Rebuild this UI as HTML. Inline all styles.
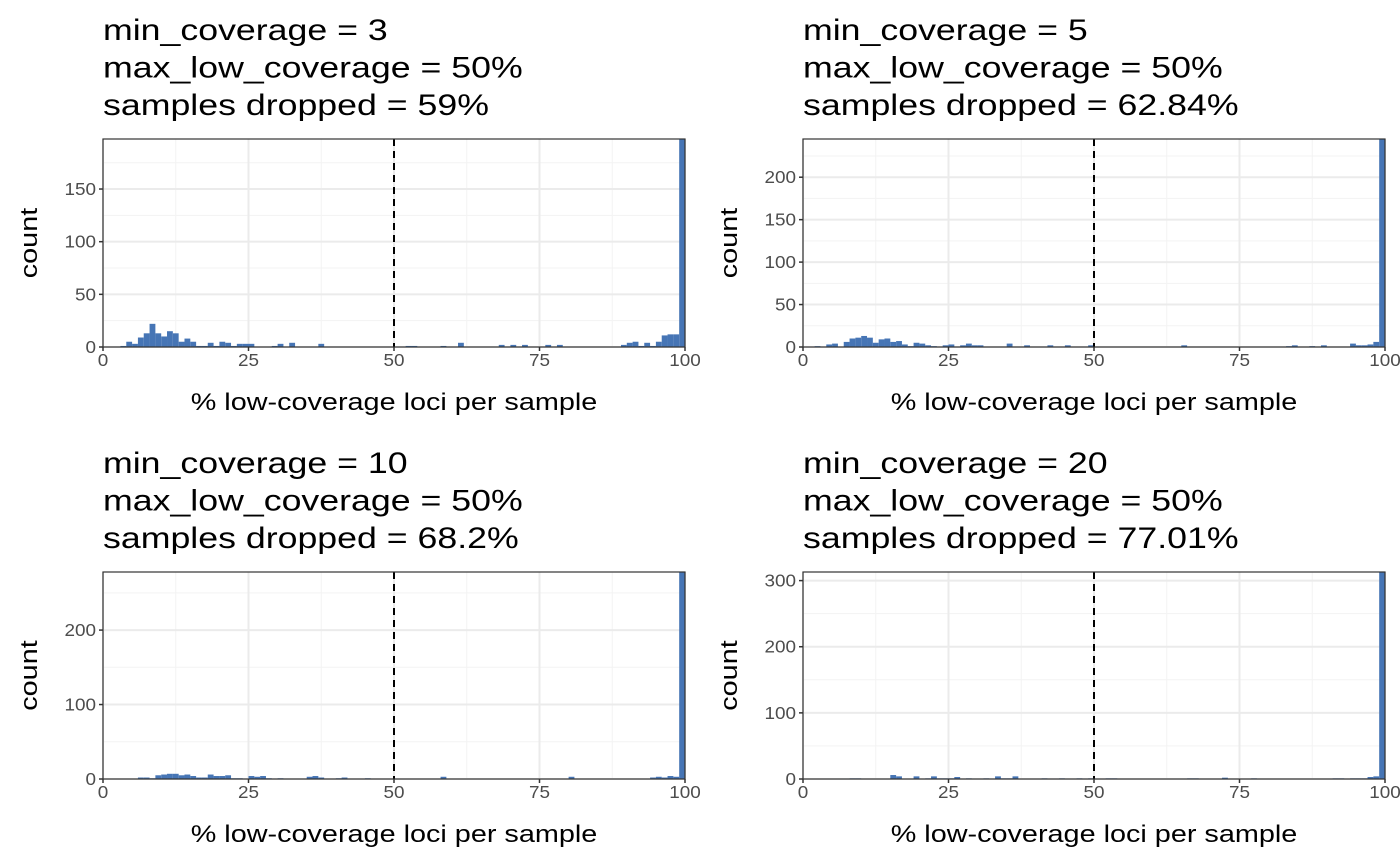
<!DOCTYPE html>
<html><head><meta charset="utf-8"><style>
html,body{margin:0;padding:0;background:#fff}
svg{display:block;font-family:"Liberation Sans",sans-serif}
</style></head><body>
<svg id="chart" width="1400" height="865"></svg>
<script>
// panel 1: min_coverage = 3
const bins1 = [3,4,5,6,7,8,9,10,11,12,13,14,15,16,17,18,19,20,21,22,23,24,25,29,30,32,37,52,53,58,61,68,70,72,76,78,89,90,91,92,93,94,95,96,97,98,99];
const counts1 = [1,5,3,9,13,22,13,10,15,13,5,8,5,1,1,4,1,5,4,1,3,3,3,1,3,4,3,1,1,1,4,2,2,2,2,2,2,4,5,1,4,1,5,11,12,12,198];
// panel 2: min_coverage = 5
const bins2 = [2,4,5,7,8,9,10,11,12,13,14,15,16,17,18,19,20,21,22,24,25,27,28,29,30,35,38,42,45,49,65,83,84,87,89,94,95,96,97,98,99];
const counts2 = [1,3,4,6,10,11,13,11,5,9,10,6,7,3,1,5,4,2,1,2,3,2,4,2,2,4,2,2,2,2,2,1,2,1,2,4,2,2,3,6,245];
// panel 3: min_coverage = 10
const bins3 = [6,7,8,9,10,11,12,13,14,15,16,17,18,19,20,21,22,23,25,26,27,28,30,35,36,37,40,41,45,58,80,94,95,96,97,98,99];
const counts3 = [2,2,1,5,6,7,7,5,6,4,2,2,6,4,4,5,1,1,4,3,4,1,1,3,4,2,1,2,1,3,3,2,3,2,4,3,278];
// panel 4: min_coverage = 20
const bins4 = [8,9,15,16,19,21,22,23,24,25,26,28,31,33,34,35,36,41,44,47,49,52,53,66,67,72,77,91,92,94,95,96,97,98,99];
const counts4 = [1,1,6,4,4,1,4,1,1,1,3,1,1,4,1,1,4,1,1,1,1,1,1,1,1,2,1,1,1,1,1,1,3,4,313];
const titles = [
 ["min_coverage = 3","max_low_coverage = 50%","samples dropped = 59%"],
 ["min_coverage = 5","max_low_coverage = 50%","samples dropped = 62.84%"],
 ["min_coverage = 10","max_low_coverage = 50%","samples dropped = 68.2%"],
 ["min_coverage = 20","max_low_coverage = 50%","samples dropped = 77.01%"]];
const yMax = [197.5,245,278,313];
const yMajor = [[0,50,100,150],[0,50,100,150,200],[0,100,200],[0,100,200,300]];
const yMinor = [[25,75,125,175],[25,75,125,175,225],[50,150,250],[50,150,250]];
const xTicks = [0,25,50,75,100];
const xMinor = [12.5,37.5,62.5,87.5];
const threshold = 50;

const svg = document.getElementById('chart');
const NS = 'http://www.w3.org/2000/svg';
function mk(tag, attrs, parent, text){
  const e = document.createElementNS(NS, tag);
  for (const k in attrs) e.setAttribute(k, attrs[k]);
  if (text !== undefined) e.textContent = text;
  parent.appendChild(e); return e;
}
function widen(t, f){
  const w = t.getComputedTextLength();
  if (w > 0) { t.setAttribute('textLength', w*f); t.setAttribute('lengthAdjust','spacingAndGlyphs'); }
}
const panels = [
 {x0:103,x1:685,y0:139,y1:347,bins:bins1,counts:counts1},
 {x0:803,x1:1385,y0:139,y1:347,bins:bins2,counts:counts2},
 {x0:103,x1:685,y0:572,y1:779,bins:bins3,counts:counts3},
 {x0:803,x1:1385,y0:572,y1:779,bins:bins4,counts:counts4}];
panels.forEach((p,i)=>{
  const g = mk('g',{},svg);
  
  
  const xs = v => p.x0 + (v/100)*(p.x1-p.x0);
  const ys = v => p.y1 - (v/yMax[i])*(p.y1-p.y0);
  titles[i].forEach((t,j)=>{
    const tt = mk('text',{x:p.x0,y:p.y0-99+j*37.5,'font-size':30,fill:'#000'},g,t);
    
    
    widen(tt,1.19);
  });
  xMinor.forEach(v=>mk('line',{x1:xs(v),x2:xs(v),y1:p.y0,y2:p.y1,stroke:'#f3f3f3','stroke-width':1},g));
  yMinor[i].forEach(v=>{ if(v<yMax[i]) mk('line',{x1:p.x0,x2:p.x1,y1:ys(v),y2:ys(v),stroke:'#f3f3f3','stroke-width':1},g);});
  xTicks.forEach(v=>mk('line',{x1:xs(v),x2:xs(v),y1:p.y0,y2:p.y1,stroke:'#ebebeb','stroke-width':2},g));
  yMajor[i].forEach(v=>mk('line',{x1:p.x0,x2:p.x1,y1:ys(v),y2:ys(v),stroke:'#ebebeb','stroke-width':2},g));
  p.bins.forEach((b,k)=>{
    const c = Math.min(p.counts[k], yMax[i]);
    const r = mk('rect',{x:xs(b),y:ys(c),width:xs(b+1)-xs(b),height:ys(0)-ys(c),fill:'#4675b5'},g);
    
    
  });
  const dl = mk('line',{x1:xs(threshold),x2:xs(threshold),y1:p.y0,y2:p.y1,stroke:'#000','stroke-width':2,'stroke-dasharray':'7,5'},g);
  
  
  const bd = mk('rect',{x:p.x0,y:p.y0,width:p.x1-p.x0,height:p.y1-p.y0,fill:'none',stroke:'#333','stroke-width':1.2},g);
  
  
  xTicks.forEach(v=>{
    mk('line',{x1:xs(v),x2:xs(v),y1:p.y1,y2:p.y1+4,stroke:'#333','stroke-width':1.5},g);
    const t = mk('text',{x:xs(v),y:p.y1+19,'font-size':17.5,fill:'#4d4d4d','text-anchor':'middle'},g,String(v));
    
    
    widen(t,1.08);
  });
  yMajor[i].forEach(v=>{
    mk('line',{x1:p.x0-4,x2:p.x0,y1:ys(v),y2:ys(v),stroke:'#333','stroke-width':1.5},g);
    const t = mk('text',{x:p.x0-7,y:ys(v)+6,'font-size':17.5,fill:'#4d4d4d','text-anchor':'end'},g,String(v));
    
    
    widen(t,1.08);
  });
  const xt = mk('text',{x:(p.x0+p.x1)/2,y:p.y1+63,'font-size':24,fill:'#000','text-anchor':'middle'},g,'% low-coverage loci per sample');
  
  
  widen(xt,1.2);
  const cy=(p.y0+p.y1)/2, cx=p.x0-66;
  const yt = mk('text',{x:cx,y:cy,'font-size':24,fill:'#000','text-anchor':'middle',transform:`rotate(-90 ${cx} ${cy})`},g,'count');
  
  
  widen(yt,1.2);
});
</script>
</body></html>
